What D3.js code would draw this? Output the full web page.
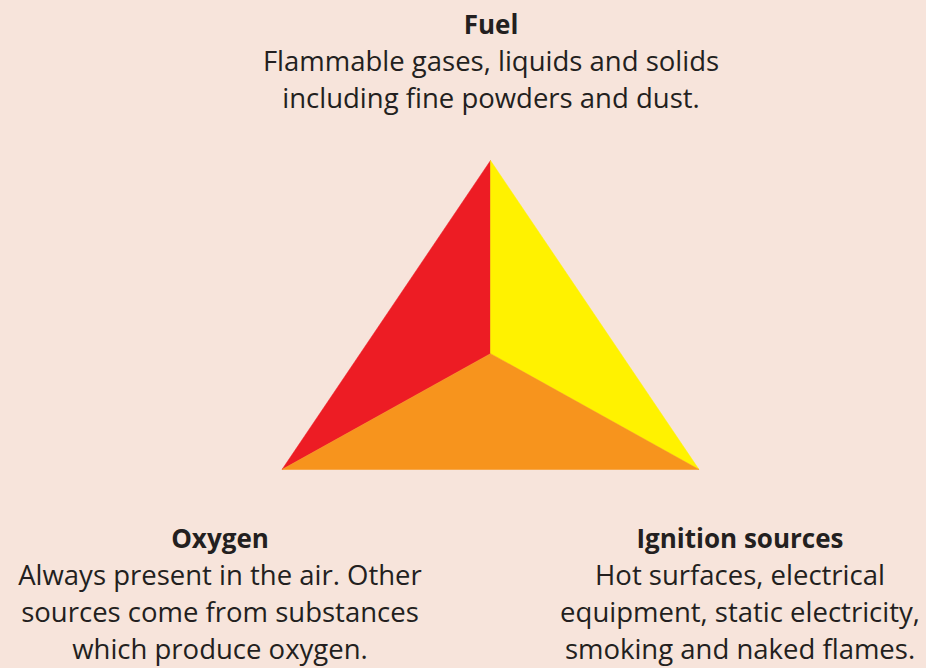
<!DOCTYPE html>
<html>
<head>
<meta charset="utf-8">
<script src="https://cdn.jsdelivr.net/npm/d3@7"></script>
<style>
  body { margin: 0; background: #f7e4db; }
  text { font-family: "Open Sans", sans-serif; fill: #231f20; }
</style>
</head>
<body>
<div id="chart"></div>
<script>
// the three sides of the fire triangle
var categories = ['Fuel', 'Ignition sources', 'Oxygen'];
var descriptions = [
  ['Flammable gases, liquids and solids', 'including fine powders and dust.'],
  ['Hot surfaces, electrical', 'equipment, static electricity,', 'smoking and naked flames.'],
  ['Always present in the air. Other', 'sources come from substances', 'which produce oxygen.']
];
var colours = ['#ed1c24', '#fff200', '#f7941d'];

var width = 926, height = 668;
var svg = d3.select('#chart').append('svg')
  .attr('width', width).attr('height', height)
  .style('background', '#f7e4db');

// triangle in unit coords: apex (0,1), base (-1,0) (1,0), centre (0, c)
var xS = d3.scaleLinear().domain([-1, 1]).range([282, 699]);
var yS = d3.scaleLinear().domain([0, 1]).range([469.5, 160.5]);
var centreY = 0.375;
var corners = [[0, 1], [1, 0], [-1, 0]];

// each face sits between two corners and the centre
var faces = [
  [corners[2], corners[0]],  // red, left
  [corners[0], corners[1]],  // yellow, right
  [corners[1], corners[2]]   // orange, bottom
];
svg.selectAll('path.face')
  .data(faces)
  .enter().append('path')
  .attr('class', 'face')
  .attr('d', function(f) {
    return 'M' + xS(0) + ',' + yS(centreY) +
      'L' + xS(f[0][0]) + ',' + yS(f[0][1]) +
      'L' + xS(f[1][0]) + ',' + yS(f[1][1]) + 'Z';
  })
  .style('fill', function(d, i) { return colours[i]; })
  .style('stroke', function(d, i) { return colours[i]; })
  .style('stroke-width', 0.5);

var labelPos = [[491, 34], [740, 548], [220, 548]];
var lineH = 37;
var g = svg.selectAll('g.label')
  .data(categories)
  .enter().append('g')
  .attr('class', 'label')
  .attr('transform', function(d, i) { return 'translate(' + labelPos[i][0] + ',' + labelPos[i][1] + ')'; });
g.append('text')
  .attr('text-anchor', 'middle')
  .style('font-size', '26px')
  .style('font-weight', 'bold')
  .text(function(d) { return d; });
g.each(function(d, i) {
  d3.select(this).selectAll('text.desc')
    .data(descriptions[i])
    .enter().append('text')
    .attr('class', 'desc')
    .attr('text-anchor', 'middle')
    .attr('y', function(t, j) { return (j + 1) * lineH; })
    .style('font-size', '27.5px')
    .text(function(t) { return t; });
});
</script>
</body>
</html>
